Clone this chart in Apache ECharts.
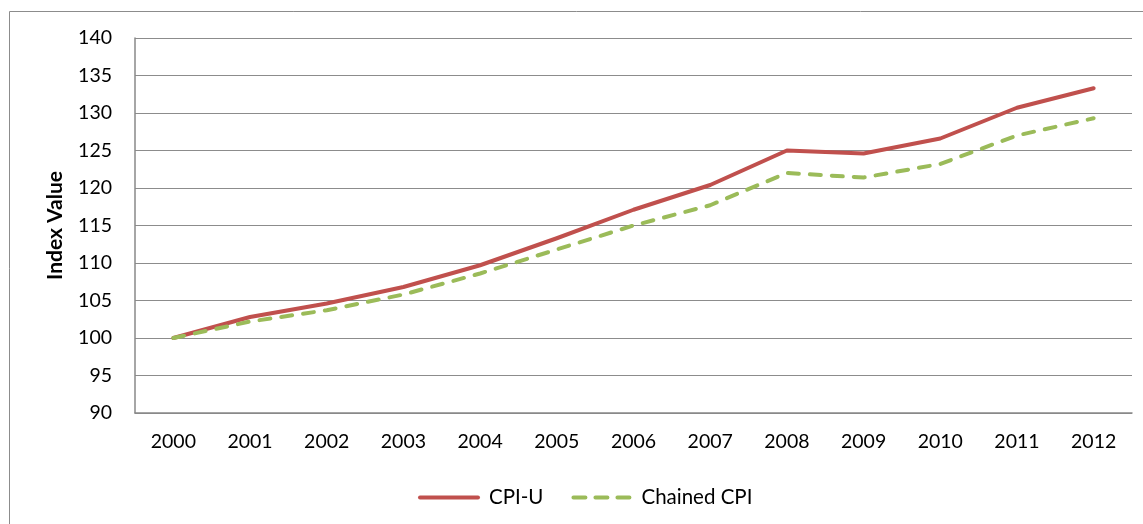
<!DOCTYPE html>
<html>
<head>
<meta charset="utf-8">
<script src="https://cdn.jsdelivr.net/npm/echarts@6/dist/echarts.min.js"></script>
<style>
html,body{margin:0;padding:0;background:#fff;}
#c{width:1143px;height:524px;}
</style>
</head>
<body>
<div id="c"></div>
<script>
const years = ['2000','2001','2002','2003','2004','2005','2006','2007','2008','2009','2010','2011','2012'];
const cpiU = [100, 102.8, 104.6, 106.8, 109.7, 113.3, 117.1, 120.4, 125.0, 124.6, 126.6, 130.7, 133.3];
const chainedCPI = [100, 102.2, 103.7, 105.8, 108.6, 111.8, 115.0, 117.7, 122.0, 121.4, 123.2, 127.0, 129.3];
const yTicks = {min: 90, max: 140, interval: 5};

const font = 'Lato, "Open Sans", "Noto Sans", sans-serif';
const solidIcon = 'path://M2,0L60,0A2,2 0 0 1 60,4L2,4A2,2 0 0 1 2,0Z';
const dashIcon = 'path://M2,0L14,0A2,2 0 0 1 14,4L2,4A2,2 0 0 1 2,0Z' +
  'M24,0L36,0A2,2 0 0 1 36,4L24,4A2,2 0 0 1 24,0Z' +
  'M46,0L58,0A2,2 0 0 1 58,4L46,4A2,2 0 0 1 46,0Z';
const chart = echarts.init(document.getElementById('c'));
chart.setOption({
  animation: false,
  graphic: [{
    type: 'rect', silent: true,
    shape: {x: 9.5, y: 11.5, width: 1140, height: 520},
    style: {fill: 'none', stroke: '#8c8c8c', lineWidth: 1}
  }],
  grid: {left: 135, right: 11, top: 38, bottom: 111},
  legend: {
    top: 487, left: 418, padding: 0,
    itemWidth: 62, itemHeight: 4, itemGap: 28,
    textStyle: {fontFamily: font, fontSize: 20.5, color: '#000', padding: [0, 0, 0, 4]},
    data: [
      {name: 'CPI-U', icon: solidIcon},
      {name: 'Chained CPI', icon: dashIcon}
    ]
  },
  xAxis: {
    type: 'category', data: years, boundaryGap: true,
    axisLine: {lineStyle: {color: '#888', width: 1.5}},
    axisTick: {show: false},
    axisLabel: {fontFamily: font, fontSize: 19.5, color: '#000', margin: 19}
  },
  yAxis: {
    type: 'value', min: yTicks.min, max: yTicks.max, interval: yTicks.interval,
    name: 'Index Value', nameLocation: 'middle', nameGap: 69,
    nameTextStyle: {fontFamily: font, fontSize: 21, fontWeight: 'bold', color: '#000'},
    axisLine: {show: true, lineStyle: {color: '#888', width: 1.5}},
    axisTick: {show: false},
    axisLabel: {fontFamily: font, fontSize: 19.5, color: '#000', margin: 23},
    splitLine: {lineStyle: {color: '#8c8c8c', width: 1.2}}
  },
  series: [
    {
      name: 'CPI-U', type: 'line', data: cpiU, symbol: 'none',
      itemStyle: {color: '#C0504D'},
      lineStyle: {color: '#C0504D', width: 4, cap: 'round', join: 'round'}
    },
    {
      name: 'Chained CPI', type: 'line', data: chainedCPI, symbol: 'none',
      itemStyle: {color: '#9BBB59'},
      lineStyle: {color: '#9BBB59', width: 4, type: [11, 11], cap: 'round', join: 'round'}
    }
  ]
});
</script>
</body>
</html>
